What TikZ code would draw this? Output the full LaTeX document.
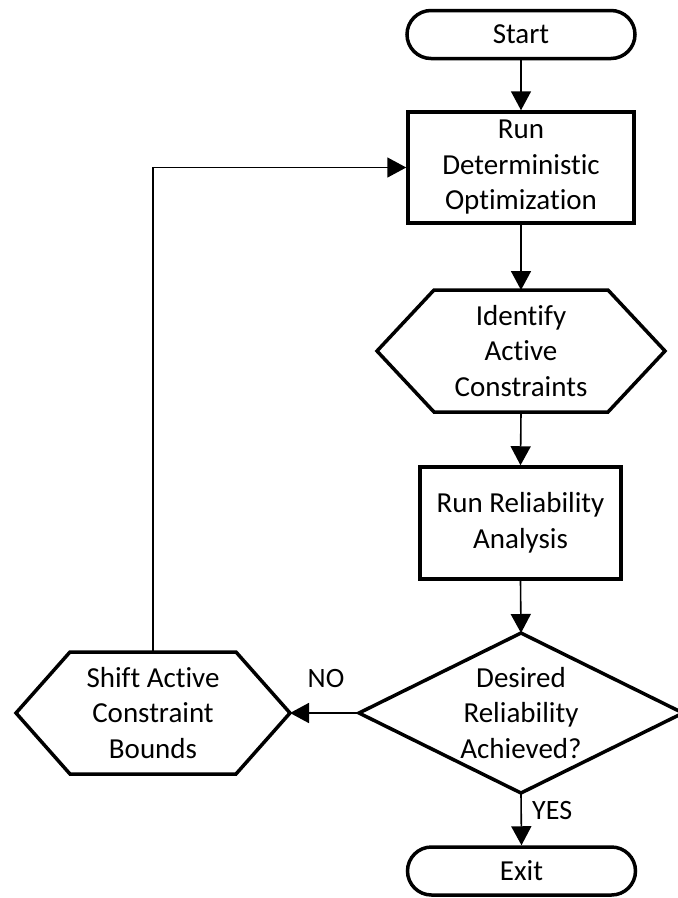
\documentclass[tikz,border=0pt]{standalone}
\usepackage{fontspec}
\setmainfont{Carlito}[Ligatures=NoCommon]
\usetikzlibrary{arrows.meta,calc}

\tikzset{
  every node/.style={font=\fontsize{29}{35.5}\selectfont, align=center, inner sep=0pt},
  terminal/.style={draw, line width=3.5pt, rounded corners=24pt,
    minimum width=228pt, minimum height=48pt},
  processbox/.style={draw, line width=3.5pt},
  holder/.style={outer sep=0pt},
  border/.style={line width=3.5pt, line join=miter},
  flow/.style={line width=1.6pt, -{Triangle[length=19pt,width=20pt]}},
  branchlabel/.style={font=\fontsize{28}{34}\selectfont}
}

\begin{document}
\begin{tikzpicture}[x=1pt,y=-1pt]
  \useasboundingbox (0,0) rectangle (678,898);

  % nodes
  \node[terminal] (start) at (521,34.5) {Start};
  \node[processbox, minimum width=226pt, minimum height=111pt] (opt) at (521,167.5)
    {Run\\Deterministic\\Optimization};
  \node[holder, minimum width=288pt, minimum height=122pt] (ident) at (521,351)
    {Identify\\Active\\Constraints};
  \node[processbox, minimum width=201pt, minimum height=112pt] (rel) at (520.5,523)
    {Run Reliability\\Analysis};
  \node[holder, minimum width=324pt, minimum height=160pt] (dec) at (521,713)
    {Desired\\Reliability\\Achieved?};
  \node[holder, minimum width=274pt, minimum height=122pt] (shift) at (153,713)
    {Shift Active\\Constraint\\Bounds};
  \node[terminal] (exit) at (521.5,871) {Exit};

  % hexagon outlines
  \draw[border] (ident.west) -- ($(ident.north west)+(57pt,0pt)$)
    -- ($(ident.north east)+(-57pt,0pt)$) -- (ident.east)
    -- ($(ident.south east)+(-57pt,0pt)$) -- ($(ident.south west)+(57pt,0pt)$) -- cycle;
  \draw[border] (shift.west) -- ($(shift.north west)+(54pt,0pt)$)
    -- ($(shift.north east)+(-54pt,0pt)$) -- (shift.east)
    -- ($(shift.south east)+(-54pt,0pt)$) -- ($(shift.south west)+(54pt,0pt)$) -- cycle;

  % decision outline
  \draw[border] (dec.north) -- (dec.east) -- (dec.south) -- (dec.west) -- cycle;

  % connectors
  \draw[flow] (start.south) -- (opt.north);
  \draw[flow] (opt.south) -- (ident.north);
  \draw[flow] (ident.south) -- (rel.north);
  \draw[flow] (rel.south) -- (dec.north);
  \draw[flow] (dec.west) -- (shift.east);
  \draw[flow] (dec.south) -- (exit.north);
  \draw[flow] (shift.north) |- (opt.west);

  % branch labels
  \node[branchlabel] (nolabel) at (326,679) {NO};
  \node[branchlabel, anchor=west] (yeslabel) at (532,810) {YES};
\end{tikzpicture}
\end{document}
